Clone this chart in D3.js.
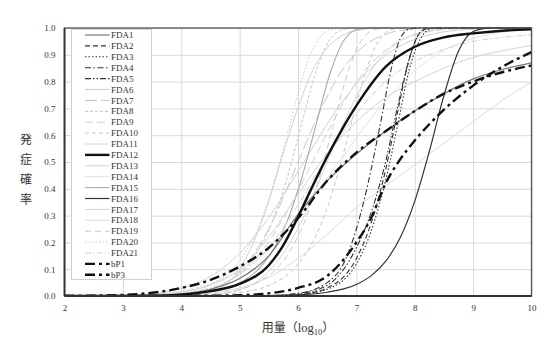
<!DOCTYPE html>
<html>
<head>
<meta charset="utf-8">
<script src="https://cdn.jsdelivr.net/npm/d3@7"></script>
<style>
  body { margin: 0; background: #fff; }
  svg { display: block; }
</style>
</head>
<body>
<svg id="chart" width="555" height="346"></svg>
<script>
// Dose–response curves: probability of illness vs. log10 dose.
// Each curve is a list of [log10 dose, probability] pairs.
const xTicks = [2, 3, 4, 5, 6, 7, 8, 9, 10];
const yTicks = [0, 0.1, 0.2, 0.3, 0.4, 0.5, 0.6, 0.7, 0.8, 0.9, 1.0];

const fda1 = [[2,0],[3,0],[3.5,0.002],[4,0.008],[4.5,0.025],[5,0.065],[5.5,0.15],[6,0.305],[6.5,0.43],[7,0.53],[7.5,0.615],[8,0.69],[8.5,0.755],[9,0.81],[9.5,0.845],[10,0.87]];
const fda2 = [[2,0],[5.5,0.001],[6,0.005],[6.5,0.03],[7,0.14],[7.25,0.27],[7.5,0.47],[7.7,0.68],[7.9,0.88],[8.05,0.97],[8.2,0.997],[8.4,1],[10,1]];
const fda3 = [[2,0],[5.5,0.001],[6,0.004],[6.5,0.025],[7,0.12],[7.25,0.24],[7.5,0.43],[7.7,0.63],[7.9,0.84],[8.1,0.96],[8.25,0.995],[8.4,1],[10,1]];
const fda4 = [[2,0],[5.5,0.002],[6,0.01],[6.5,0.05],[6.8,0.13],[7,0.25],[7.2,0.42],[7.4,0.63],[7.6,0.85],[7.75,0.96],[7.9,0.995],[8.1,1],[10,1]];
const fda5 = [[2,0],[5.5,0.002],[6,0.008],[6.5,0.04],[7,0.18],[7.25,0.31],[7.5,0.5],[7.7,0.7],[7.9,0.88],[8.05,0.97],[8.2,0.997],[8.4,1],[10,1]];
const fda6 = [[2,0],[4.05,0.001],[4.33,0.006],[4.6,0.023],[4.88,0.067],[5.15,0.159],[5.43,0.309],[5.7,0.5],[5.98,0.691],[6.25,0.841],[6.53,0.933],[6.8,0.977],[7.08,0.994],[7.35,0.999],[7.63,1],[10,1]];
const fda7 = [[2,0],[3.75,0.001],[4.13,0.006],[4.5,0.023],[4.88,0.067],[5.25,0.159],[5.63,0.309],[6,0.5],[6.38,0.691],[6.75,0.841],[7.13,0.933],[7.5,0.977],[7.88,0.994],[8.25,0.999],[8.63,1],[10,1]];
const fda8 = [[2,0],[3.55,0.003],[3.8,0.006],[4.05,0.01],[4.3,0.018],[4.55,0.031],[4.8,0.055],[5.05,0.095],[5.3,0.163],[5.55,0.271],[5.8,0.43],[6.05,0.632],[6.3,0.831],[6.55,0.958],[6.8,0.996],[7.05,1],[10,1]];
const fda9 = [[2,0],[3.55,0.001],[4,0.006],[4.45,0.023],[4.9,0.067],[5.35,0.159],[5.8,0.309],[6.25,0.5],[6.7,0.691],[7.15,0.841],[7.6,0.933],[8.05,0.977],[8.5,0.994],[8.95,0.999],[9.4,1],[10,1]];
const fda10 = [[2,0],[4.4,0.003],[4.65,0.006],[4.9,0.01],[5.15,0.018],[5.4,0.031],[5.65,0.055],[5.9,0.095],[6.15,0.163],[6.4,0.271],[6.65,0.43],[6.9,0.632],[7.15,0.831],[7.4,0.958],[7.65,0.996],[7.9,1],[10,1]];
const fda11 = [[2,0],[4.25,0.001],[4.63,0.006],[5,0.023],[5.38,0.067],[5.75,0.159],[6.13,0.309],[6.5,0.5],[6.88,0.691],[7.25,0.841],[7.63,0.933],[8,0.977],[8.38,0.994],[8.75,0.999],[9.13,1],[10,1]];
const fda12 = [[2,0],[3.5,0.001],[4,0.005],[4.5,0.018],[5,0.045],[5.5,0.115],[5.75,0.19],[6,0.295],[6.25,0.41],[6.5,0.52],[6.75,0.62],[7,0.71],[7.5,0.855],[8,0.93],[8.5,0.965],[9,0.98],[9.5,0.99],[10,0.995]];
const fda13 = [[2,0],[2.8,0.001],[3.35,0.006],[3.9,0.023],[4.45,0.067],[5,0.159],[5.55,0.309],[6.1,0.5],[6.65,0.691],[7.2,0.841],[7.75,0.933],[8.3,0.977],[8.85,0.994],[9.4,0.999],[10,1]];
const fda14 = [[2,0],[2.8,0.001],[3.45,0.006],[4.1,0.023],[4.75,0.067],[5.4,0.159],[6.05,0.309],[6.7,0.5],[7.35,0.691],[8,0.841],[8.65,0.933],[9.3,0.977],[10,0.994]];
const fda15 = [[2,0],[3.8,0.003],[4.05,0.006],[4.3,0.01],[4.55,0.018],[4.8,0.031],[5.05,0.055],[5.3,0.095],[5.55,0.163],[5.8,0.271],[6.05,0.43],[6.3,0.632],[6.55,0.831],[6.8,0.958],[7.05,0.996],[7.3,1],[10,1]];
const fda16 = [[2,0],[5.5,0.001],[6,0.004],[6.5,0.014],[7,0.043],[7.25,0.075],[7.5,0.129],[7.75,0.217],[8,0.354],[8.25,0.54],[8.5,0.748],[8.75,0.914],[9,0.987],[9.25,0.9996],[9.5,1],[10,1]];
const fda17 = [[2,0],[3,0.001],[3.5,0.005],[4,0.015],[4.5,0.04],[5,0.1],[5.5,0.22],[6,0.38],[6.5,0.53],[7,0.65],[7.5,0.74],[8,0.8],[8.5,0.85],[9,0.89],[9.5,0.915],[10,0.935]];
const fda18 = [[2,0],[3.5,0.001],[4,0.004],[4.5,0.012],[5,0.03],[5.5,0.07],[6,0.14],[6.5,0.23],[7,0.33],[7.5,0.41],[8,0.49],[8.5,0.57],[9,0.65],[9.5,0.73],[10,0.8]];
const fda19 = [[2,0],[4.1,0.003],[4.35,0.006],[4.6,0.01],[4.85,0.018],[5.1,0.031],[5.35,0.055],[5.6,0.095],[5.85,0.163],[6.1,0.271],[6.35,0.43],[6.6,0.632],[6.85,0.831],[7.1,0.958],[7.35,0.996],[7.6,1],[10,1]];
const fda20 = [[2,0],[3.35,0.003],[3.6,0.006],[3.85,0.01],[4.1,0.018],[4.35,0.031],[4.6,0.055],[4.85,0.095],[5.1,0.163],[5.35,0.271],[5.6,0.43],[5.85,0.632],[6.1,0.831],[6.35,0.958],[6.6,0.996],[6.85,1],[10,1]];
const fda21 = [[2,0],[3.5,0.002],[4,0.01],[4.5,0.03],[5,0.08],[5.5,0.18],[6,0.34],[6.5,0.52],[7,0.68],[7.5,0.8],[8,0.875],[8.5,0.92],[9,0.95],[9.5,0.965],[10,0.975]];
const bp1 = [[2,0],[2.5,0.001],[3,0.004],[3.5,0.012],[4,0.03],[4.5,0.06],[5,0.11],[5.5,0.18],[6,0.29],[6.5,0.43],[7,0.535],[7.5,0.615],[8,0.69],[8.5,0.755],[9,0.8],[9.5,0.835],[10,0.86]];
const bp3 = [[2,0],[4.5,0.001],[5,0.003],[5.5,0.01],[6,0.03],[6.5,0.075],[7,0.2],[7.25,0.29],[7.5,0.42],[7.75,0.51],[8,0.58],[8.5,0.695],[9,0.785],[9.5,0.855],[10,0.91]];

const seriesNames = ["FDA1","FDA2","FDA3","FDA4","FDA5","FDA6","FDA7","FDA8","FDA9","FDA10","FDA11","FDA12","FDA13","FDA14","FDA15","FDA16","FDA17","FDA18","FDA19","FDA20","FDA21","bP1","bP3"];
const seriesValues = [fda1,fda2,fda3,fda4,fda5,fda6,fda7,fda8,fda9,fda10,fda11,fda12,fda13,fda14,fda15,fda16,fda17,fda18,fda19,fda20,fda21,bp1,bp3];

// Line appearance for each curve
const lineStyle = {
  FDA1:  { stroke: "#777", width: 1.2, dash: null, z: 2 },
  FDA2:  { stroke: "#333", width: 1.1, dash: "5,3", z: 3 },
  FDA3:  { stroke: "#333", width: 1.1, dash: "1.5,2", z: 3 },
  FDA4:  { stroke: "#333", width: 1.1, dash: "6,2.5,1.5,2.5", z: 3 },
  FDA5:  { stroke: "#333", width: 1.1, dash: "6,2,1.5,2,1.5,2", z: 3 },
  FDA6:  { stroke: "#cfcfcf", width: 1, dash: null, z: 1 },
  FDA7:  { stroke: "#c4c4c4", width: 1, dash: "12,4", z: 1 },
  FDA8:  { stroke: "#c4c4c4", width: 1, dash: "3,2", z: 1 },
  FDA9:  { stroke: "#cfcfcf", width: 1, dash: "8,4", z: 1 },
  FDA10: { stroke: "#c4c4c4", width: 1, dash: "4,3", z: 1 },
  FDA11: { stroke: "#d6d6d6", width: 1, dash: null, z: 1 },
  FDA12: { stroke: "#111", width: 2.4, dash: null, z: 5 },
  FDA13: { stroke: "#d2d2d2", width: 1, dash: null, z: 1 },
  FDA14: { stroke: "#e2e2e2", width: 1, dash: null, z: 1 },
  FDA15: { stroke: "#a8a8a8", width: 1.1, dash: null, z: 1 },
  FDA16: { stroke: "#333", width: 1.2, dash: null, z: 3 },
  FDA17: { stroke: "#d4d4d4", width: 1, dash: null, z: 1 },
  FDA18: { stroke: "#dadada", width: 1, dash: null, z: 1 },
  FDA19: { stroke: "#c8c8c8", width: 1, dash: "6,4", z: 1 },
  FDA20: { stroke: "#c8c8c8", width: 1, dash: "1.5,2", z: 1 },
  FDA21: { stroke: "#d0d0d0", width: 1, dash: "6,2,1.5,2", z: 1 },
  bP1:   { stroke: "#111", width: 2.4, dash: "10,4,3,4", z: 6 },
  bP3:   { stroke: "#111", width: 2.4, dash: "10,4,3,4", z: 6 }
};

const W = 555, H = 346;
const margin = { top: 28, right: 23.5, bottom: 50, left: 64.5 };
const innerW = W - margin.left - margin.right;
const innerH = H - margin.top - margin.bottom;

const svg = d3.select("#chart");
const x = d3.scaleLinear().domain([2, 10]).range([margin.left, margin.left + innerW]);
const y = d3.scaleLinear().domain([0, 1]).range([margin.top + innerH, margin.top]);

const serif = "'Liberation Serif', 'Times New Roman', serif";
const cjk = "'Noto Sans CJK JP', sans-serif";

// Grid and tick labels via axes
const yAxis = svg.append("g")
  .attr("transform", `translate(${margin.left},0)`)
  .call(d3.axisLeft(y).tickValues(yTicks).tickFormat(d3.format(".1f"))
        .tickSize(-innerW).tickPadding(9));
const xAxis = svg.append("g")
  .attr("transform", `translate(0,${margin.top + innerH})`)
  .call(d3.axisBottom(x).tickValues(xTicks).tickFormat(d3.format("d"))
        .tickSize(-innerH).tickPadding(9));
[xAxis, yAxis].forEach(g => {
  g.select(".domain").remove();
  g.selectAll(".tick line").attr("stroke", "#d9d9d9").attr("stroke-width", 1);
  g.selectAll(".tick text").attr("fill", "#333").style("font-family", serif).style("font-size", "9px");
});

// Curves
svg.append("defs").append("clipPath").attr("id", "plotClip")
  .append("rect").attr("x", margin.left).attr("y", margin.top - 2)
  .attr("width", innerW).attr("height", innerH + 2);

const line = d3.line().x(d => x(d[0])).y(d => y(d[1])).curve(d3.curveMonotoneX);
const curves = seriesNames.map((name, i) => ({ name, values: seriesValues[i], style: lineStyle[name] }));
const drawOrder = curves.slice().sort((a, b) => a.style.z - b.style.z);

svg.append("g").attr("clip-path", "url(#plotClip)")
  .selectAll("path").data(drawOrder).join("path")
  .attr("d", d => line(d.values))
  .attr("fill", "none")
  .attr("stroke", d => d.style.stroke)
  .attr("stroke-width", d => d.style.width)
  .attr("stroke-dasharray", d => d.style.dash)
  .attr("stroke-linejoin", "round");

// Plot frame
svg.append("rect")
  .attr("x", margin.left).attr("y", margin.top)
  .attr("width", innerW).attr("height", innerH)
  .attr("fill", "none").attr("stroke", "#555").attr("stroke-width", 1.3);
svg.append("line")
  .attr("x1", margin.left).attr("x2", margin.left)
  .attr("y1", margin.top).attr("y2", margin.top + innerH)
  .attr("stroke", "#333").attr("stroke-width", 1.8);
svg.append("line")
  .attr("x1", margin.left).attr("x2", margin.left + innerW)
  .attr("y1", margin.top + innerH).attr("y2", margin.top + innerH)
  .attr("stroke", "#333").attr("stroke-width", 1.8);

// Legend
const legX = 71.5, legY = 29.5, legW = 80, legH = 250, legStep = 10.9;
const legend = svg.append("g");
legend.append("rect")
  .attr("x", legX).attr("y", legY).attr("width", legW).attr("height", legH)
  .attr("fill", "#fff").attr("stroke", "#cfcfcf").attr("stroke-width", 1);
const items = legend.selectAll("g.item").data(curves).join("g")
  .attr("class", "item")
  .attr("transform", (d, i) => `translate(0,${legY + 5.5 + i * legStep})`);
items.append("line")
  .attr("x1", legX + 13.5).attr("x2", legX + 38)
  .attr("stroke", d => d.style.stroke)
  .attr("stroke-width", d => d.style.width)
  .attr("stroke-dasharray", d => d.style.dash);
items.append("text")
  .attr("x", legX + 39.5).attr("y", 0).attr("dy", "0.35em")
  .attr("fill", "#333")
  .style("font-family", serif).style("font-size", "9px")
  .text(d => d.name);

// Axis titles
const yTitle = ["発", "症", "確", "率"];
svg.append("g").selectAll("text").data(yTitle).join("text")
  .attr("x", 26).attr("y", (d, i) => 140 + i * 20).attr("dy", "0.35em")
  .attr("text-anchor", "middle").attr("fill", "#333")
  .style("font-family", cjk).style("font-size", "12px")
  .text(d => d);

const xt = svg.append("text")
  .attr("x", (x(2) + x(10)) / 2).attr("y", 332)
  .attr("text-anchor", "middle").attr("fill", "#333")
  .style("font-size", "12px");
xt.append("tspan").style("font-family", cjk).text("用量（");
xt.append("tspan").style("font-family", serif).style("font-size", "12.5px").text("log");
xt.append("tspan").style("font-family", serif).style("font-size", "8.5px").attr("dy", "2.5").text("10");
xt.append("tspan").style("font-family", cjk).attr("dy", "-2.5").text("）");
</script>
</body>
</html>
